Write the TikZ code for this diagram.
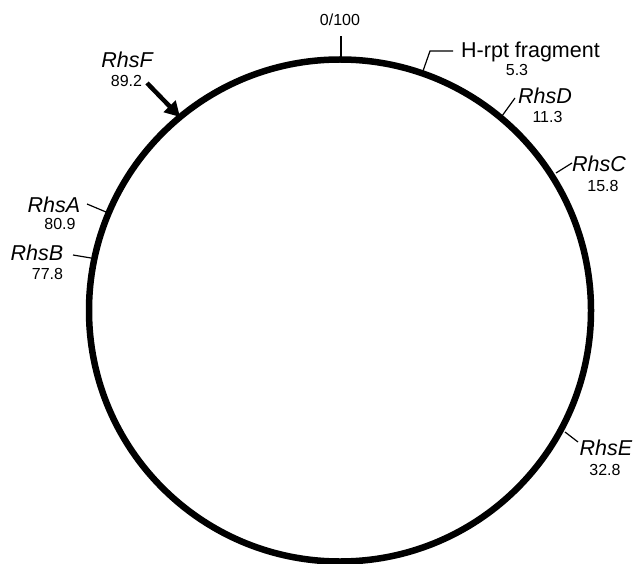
\documentclass[tikz,border=0pt]{standalone}
\usepackage{fontspec}
\setmainfont{Liberation Sans}
\usetikzlibrary{arrows.meta}
\begin{document}
\begin{tikzpicture}[x=1pt,y=-1pt,
  genename/.style={font=\fontsize{21.5}{23}\selectfont\itshape, anchor=base, inner sep=0pt},
  posnum/.style={font=\fontsize{16}{17}\selectfont, anchor=base, inner sep=0pt},
  tickline/.style={line width=1.2pt},
  ring/.style={line width=6.5pt}]
\useasboundingbox (0,0) rectangle (634,564);
% chromosome circle
\coordinate (c) at (340,310.5);
\draw[ring] (c) circle[radius=251];
% 0/100
\coordinate (t0a) at (341,58);
\coordinate (t0b) at (341,36);
\draw[tickline] (t0a) -- (t0b);
\node[posnum] (n0) at (340,26) {0/100};
% H-rpt fragment
\coordinate (thA) at (423,71);
\coordinate (thB) at (430,51);
\coordinate (thC) at (453,51);
\draw[tickline] (thA) -- (thB) -- (thC);
\node[font=\fontsize{21.5}{23}\selectfont, anchor=base west, inner sep=0pt] (hrpt) at (461,58) {H-rpt fragment};
\node[posnum] (nh) at (517,76) {5.3};
% RhsD
\coordinate (tdA) at (502,116);
\coordinate (tdB) at (515,98);
\draw[tickline] (tdA) -- (tdB);
\node[genename] (rhsd) at (545,104) {RhsD};
\node[posnum] (nd) at (547.5,123) {11.3};
% RhsC
\coordinate (tcA) at (556,173);
\coordinate (tcB) at (572,163);
\draw[tickline] (tcA) -- (tcB);
\node[genename] (rhsc) at (599,172) {RhsC};
\node[posnum] (nc) at (603,192) {15.8};
% RhsE
\coordinate (teA) at (565,432);
\coordinate (teB) at (578,442);
\draw[tickline] (teA) -- (teB);
\node[genename] (rhse) at (606,455) {RhsE};
\node[posnum] (ne) at (605,475) {32.8};
% RhsA
\coordinate (taA) at (106,212);
\coordinate (taB) at (87,204);
\draw[tickline] (taA) -- (taB);
\node[genename] (rhsa) at (54,212) {RhsA};
\node[posnum] (na) at (60,229) {80.9};
% RhsB
\coordinate (tbA) at (91,258);
\coordinate (tbB) at (73,255);
\draw[tickline] (tbA) -- (tbB);
\node[genename] (rhsb) at (37,260) {RhsB};
\node[posnum] (nb) at (47.5,279) {77.8};
% RhsF
\node[genename] (rhsf) at (127,68) {RhsF};
\node[posnum] (nf) at (126.5,87) {89.2};
\coordinate (tfA) at (147,83);
\coordinate (tfB) at (180,117);
\draw[line width=4.5pt, -{Triangle[length=15pt,width=16pt]}] (tfA) -- (tfB);
\end{tikzpicture}
\end{document}
